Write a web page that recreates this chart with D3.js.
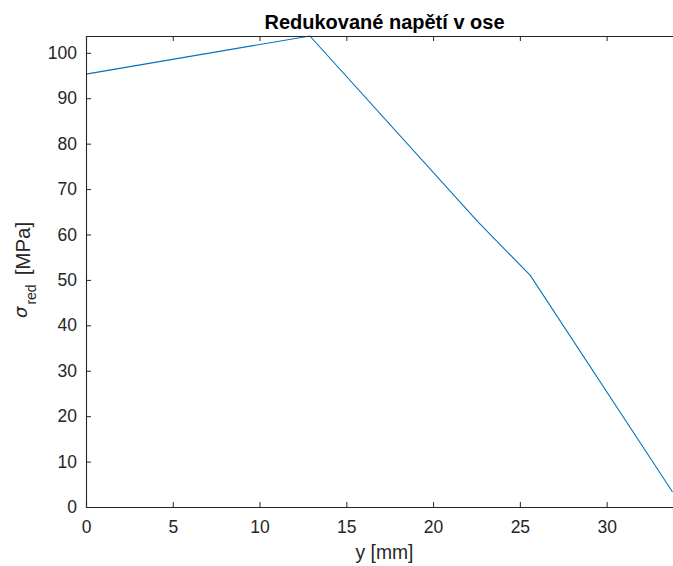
<!DOCTYPE html>
<html>
<head>
<meta charset="utf-8">
<script src="https://cdn.jsdelivr.net/npm/d3@7"></script>
<style>
  body { margin: 0; background: #fff; overflow: hidden; }
  text { font-family: "Liberation Sans", Arial, sans-serif; }
</style>
</head>
<body>
<script>
const w = 673;
const h = 566;
// axes box runs a little past the right edge of the window (cropped figure)
const margin = { top: 36, left: 86, bottom: 59 };
const plotRight = 683;

// data
const posY = [0, 12.9, 22.6, 25.6, 33.8];
const sigmaRed = [95.3, 103.7, 62.7, 51.0, 3.3];
const xTicks = [0, 5, 10, 15, 20, 25, 30];
const yTicks = [0, 10, 20, 30, 40, 50, 60, 70, 80, 90, 100];

const data = posY.map((d, i) => ({ x: d, y: sigmaRed[i] }));

const svg = d3.select('body').append('svg')
  .attr('width', w)
  .attr('height', h);

const x = d3.scaleLinear()
  .domain([0, 34.4])
  .range([margin.left, plotRight]);
const y = d3.scaleLinear()
  .domain([0, 103.7])
  .range([h - margin.bottom, margin.top]);

const axisColor = '#262626';
const midX = (margin.left + plotRight) / 2;

// line
svg.append('path')
  .datum(data)
  .attr('fill', 'none')
  .attr('stroke', '#0072BD')
  .attr('stroke-width', 1.1)
  .attr('d', d3.line().x((d) => x(d.x)).y((d) => y(d.y)));

// axes (MATLAB style, ticks inside)
const xAxis = svg.append('g')
  .attr('transform', `translate(0,${h - margin.bottom})`)
  .call(d3.axisBottom(x).tickValues(xTicks).tickSize(-5).tickPadding(14));
const xTop = svg.append('g')
  .attr('transform', `translate(0,${margin.top})`)
  .call(d3.axisTop(x).tickValues(xTicks).tickSize(-5).tickFormat(''));
const yAxis = svg.append('g')
  .attr('transform', `translate(${margin.left},0)`)
  .call(d3.axisLeft(y).tickValues(yTicks).tickSize(-5).tickPadding(9));

[xAxis, xTop, yAxis].forEach((g) => {
  g.select('.domain').attr('stroke', axisColor).attr('stroke-width', 1.1);
  g.selectAll('.tick line').attr('stroke', axisColor);
  g.selectAll('.tick text')
    .attr('fill', axisColor)
    .style('font-size', '17.5px')
    .style('font-family', '"Liberation Sans", Arial, sans-serif');
});

// title
svg.append('text')
  .attr('x', midX)
  .attr('y', 29)
  .attr('text-anchor', 'middle')
  .attr('font-weight', 'bold')
  .attr('font-size', '20px')
  .attr('fill', '#000')
  .text('Redukované napětí v ose');

// x label
svg.append('text')
  .attr('x', midX)
  .attr('y', 559)
  .attr('text-anchor', 'middle')
  .attr('font-size', '19.3px')
  .attr('fill', axisColor)
  .text('y [mm]');

// y label
const yl = svg.append('text')
  .attr('transform', `translate(30,318) rotate(-90)`)
  .attr('text-anchor', 'start')
  .attr('font-size', '20.5px')
  .attr('fill', axisColor);
yl.append('tspan').attr('font-style', 'italic').attr('font-family', '"DejaVu Sans", sans-serif')
  .attr('font-size', '18px').attr('dy', -3).text('σ');
yl.append('tspan').attr('dx', 2).attr('dy', 9).attr('font-size', '14px').text('red');
yl.append('tspan').attr('dx', 9).attr('dy', -6).text('[MPa]');
</script>
</body>
</html>
